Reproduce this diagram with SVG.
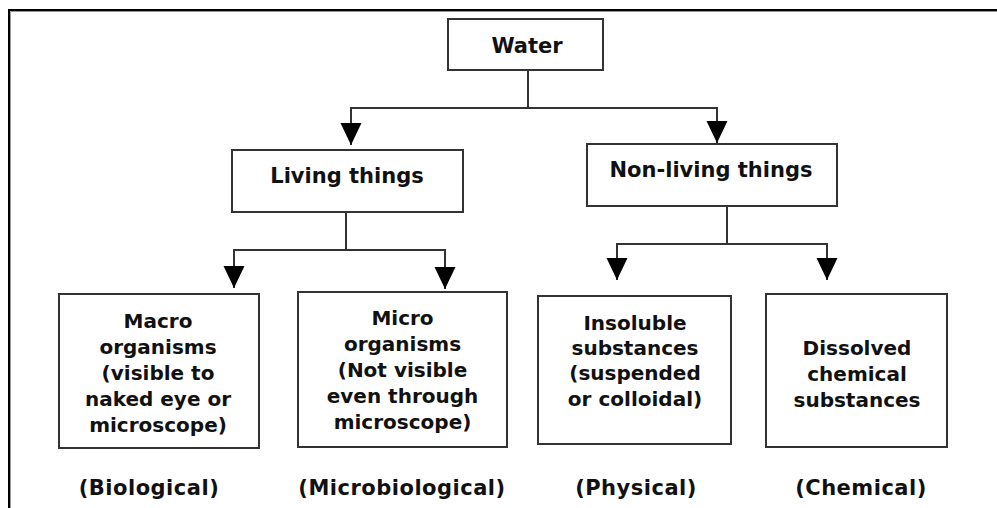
<svg xmlns="http://www.w3.org/2000/svg" width="997" height="508" viewBox="0 0 997 508">
<style>
.box{fill:#fff;stroke:#333;stroke-width:2}
.ln{fill:none;stroke:#333;stroke-width:2}
text{font-family:"DejaVu Sans","Verdana",sans-serif;font-weight:bold;font-size:20px;fill:#111;text-anchor:middle}
.big{font-size:21px}
.lab{font-size:21px;letter-spacing:0.5px}
</style>
<defs>
<marker id="ah" markerUnits="userSpaceOnUse" markerWidth="22" markerHeight="23" refX="22" refY="10.5" orient="auto" viewBox="0 0 22 21">
<path d="M0,0 L22,10.5 L0,21 Z" fill="#000"/>
</marker>
</defs>
<rect width="997" height="508" fill="#fff"/>
<g id="frame">
<path d="M9,508 V10 H997" fill="none" stroke="#000" stroke-width="2"/>
<path d="M10.5,508 V11.5 H997" fill="none" stroke="#999" stroke-width="1"/>
</g>
<g id="connectors">
<path class="ln" d="M528,70 V108"/>
<path class="ln" d="M528,108 H351 V145" marker-end="url(#ah)"/>
<path class="ln" d="M528,108 H717 V143" marker-end="url(#ah)"/>
<path class="ln" d="M346,212 V250"/>
<path class="ln" d="M346,250 H234 V288" marker-end="url(#ah)"/>
<path class="ln" d="M346,250 H445 V289" marker-end="url(#ah)"/>
<path class="ln" d="M727,206 V244"/>
<path class="ln" d="M727,244 H617 V280" marker-end="url(#ah)"/>
<path class="ln" d="M727,244 H827 V280" marker-end="url(#ah)"/>
</g>
<g id="water">
<rect class="box" x="448" y="19" width="155" height="51"/>
<text class="big" x="527" y="53">Water</text>
</g>
<g id="living">
<rect class="box" x="232" y="150" width="231" height="62"/>
<text class="big" x="347" y="183">Living things</text>
</g>
<g id="nonliving">
<rect class="box" x="587" y="144" width="250" height="62"/>
<text class="big" x="711" y="177">Non-living things</text>
</g>
<g id="macro">
<rect class="box" x="59" y="294" width="200" height="154"/>
<text x="158" y="328">Macro</text>
<text x="158" y="354">organisms</text>
<text x="158" y="380">(visible to</text>
<text x="158" y="406">naked eye or</text>
<text x="158" y="432">microscope)</text>
</g>
<g id="micro">
<rect class="box" x="298" y="292" width="209" height="155"/>
<text x="402.5" y="325">Micro</text>
<text x="402.5" y="351">organisms</text>
<text x="402.5" y="377">(Not visible</text>
<text x="402.5" y="403">even through</text>
<text x="402.5" y="429">microscope)</text>
</g>
<g id="insoluble">
<rect class="box" x="538" y="296" width="193" height="148"/>
<text x="635" y="330">Insoluble</text>
<text x="635" y="355">substances</text>
<text x="635" y="380">(suspended</text>
<text x="635" y="406">or colloidal)</text>
</g>
<g id="dissolved">
<rect class="box" x="766" y="294" width="181" height="153"/>
<text x="857" y="355">Dissolved</text>
<text x="857" y="381">chemical</text>
<text x="857" y="407">substances</text>
</g>
<g id="labels">
<text class="lab" x="149" y="495">(Biological)</text>
<text class="lab" x="402" y="495">(Microbiological)</text>
<text class="lab" x="636" y="495">(Physical)</text>
<text class="lab" x="861" y="495">(Chemical)</text>
</g>
</svg>
